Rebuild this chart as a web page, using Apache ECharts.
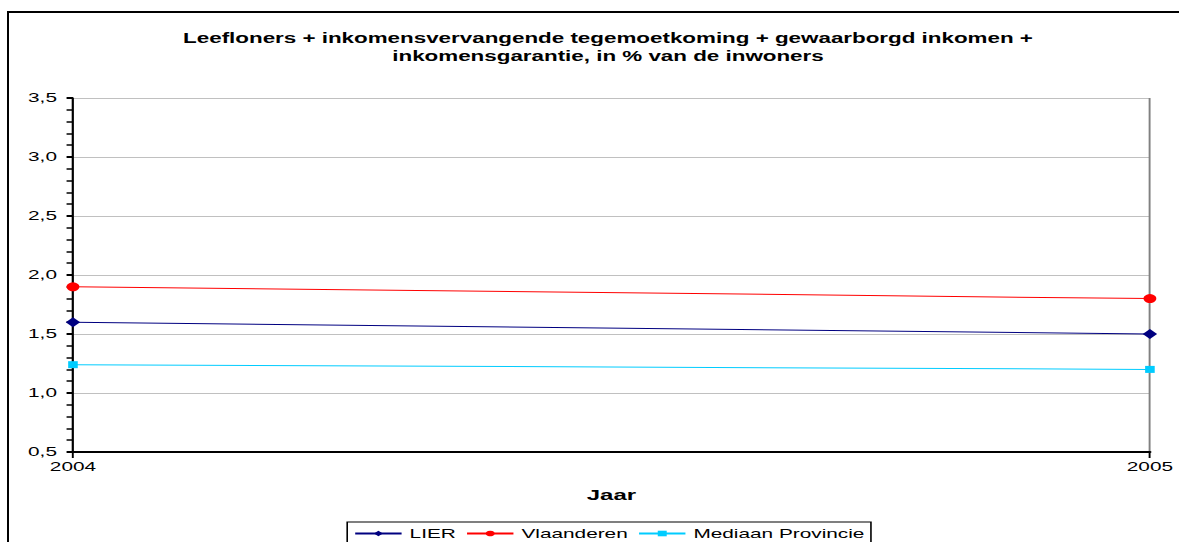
<!DOCTYPE html>
<html>
<head>
<meta charset="utf-8">
<script src="https://cdn.jsdelivr.net/npm/echarts@6/dist/echarts.min.js"></script>
<style>
  html, body { margin: 0; padding: 0; background: #fff; overflow: hidden; }
  #wrap { position: relative; width: 1179px; height: 542px; overflow: hidden; }
  /* kader rond de grafiek (rechts en onder valt buiten beeld) */
  #frame { position: absolute; left: 7px; top: 11px; width: 1200px; height: 560px;
           border-top: 2px solid #000; border-left: 2px solid #000; pointer-events: none; }
  /* de bron is horizontaal uitgerekt, dus tekenen we smal en rekken we het uit */
  #chart { position: absolute; left: 0; top: 0; width: 760px; height: 542px;
           transform-origin: 0 0; transform: scaleX(1.6); }
</style>
</head>
<body>
<div id="wrap">
  <div id="chart"></div>
  <div id="frame"></div>
</div>
<script>
// jaren op de x-as
const years = ['2004', '2005']
// waarden in % van de inwoners
const lier = [1.6, 1.5]
const vlaanderen = [1.9, 1.8]
const mediaanProvincie = [1.24, 1.2]

const fontFam = '"Liberation Sans", Arial, sans-serif'

const chart = echarts.init(document.getElementById('chart'), null, { renderer: 'svg' })

function lineSerie(name, data, color, symbol, size) {
  return {
    name: name,
    type: 'line',
    data: data,
    symbol: symbol,
    symbolSize: size,
    itemStyle: { color: color },
    lineStyle: { color: color, width: 1 },
    emphasis: { disabled: true },
    animation: false
  }
}

chart.setOption({
  animation: false,
  textStyle: { fontFamily: fontFam },
  title: {
    text: 'Leefloners + inkomensvervangende tegemoetkoming + gewaarborgd inkomen +\ninkomensgarantie, in % van de inwoners',
    left: 375,
    textAlign: 'center',
    top: 24,
    textStyle: { fontSize: 14, fontWeight: 'bold', color: '#000', lineHeight: 18, fontFamily: fontFam }
  },
  legend: {
    top: 522,
    left: 217,
    itemWidth: 29,
    itemHeight: 7,
    itemGap: 6,
    borderColor: '#000',
    borderWidth: 1,
    borderRadius: 0,
    padding: [5, 4, 20, 4],
    textStyle: { fontSize: 13, color: '#000', fontFamily: fontFam },
    data: ['LIER', 'Vlaanderen', 'Mediaan Provincie']
  },
  grid: { left: 45.6, right: 41.3, top: 98, bottom: 90 },
  xAxis: {
    type: 'category',
    data: years,
    boundaryGap: false,
    name: 'Jaar',
    nameLocation: 'middle',
    nameGap: 35,
    nameTextStyle: { fontSize: 15, fontWeight: 'bold', color: '#000' },
    axisLine: { lineStyle: { color: '#000', width: 2 } },
    axisTick: { show: true, length: 6, lineStyle: { color: '#000', width: 1.2 } },
    axisLabel: { fontSize: 13, color: '#000', margin: 8 },
    splitLine: { show: true, lineStyle: { color: '#808080', width: 1.2 } }
  },
  yAxis: {
    type: 'value',
    min: 0.5,
    max: 3.5,
    interval: 0.5,
    axisLine: { show: true, lineStyle: { color: '#000', width: 1.3 } },
    axisTick: { show: true, length: 4, lineStyle: { color: '#000', width: 2 } },
    minorTick: { show: true, splitNumber: 5, length: 4, lineStyle: { color: '#000', width: 1.5 } },
    axisLabel: {
      fontSize: 13, color: '#000', margin: 10,
      formatter: v => v.toFixed(1).replace('.', ',')
    },
    splitLine: { show: true, lineStyle: { color: '#c0c0c0', width: 1 } }
  },
  series: [
    lineSerie('LIER', lier, '#000080', 'diamond', [9, 10]),
    lineSerie('Vlaanderen', vlaanderen, '#ff0000', 'circle', [8, 9]),
    lineSerie('Mediaan Provincie', mediaanProvincie, '#00ccff', 'rect', [6, 7])
  ]
})
</script>
</body>
</html>
